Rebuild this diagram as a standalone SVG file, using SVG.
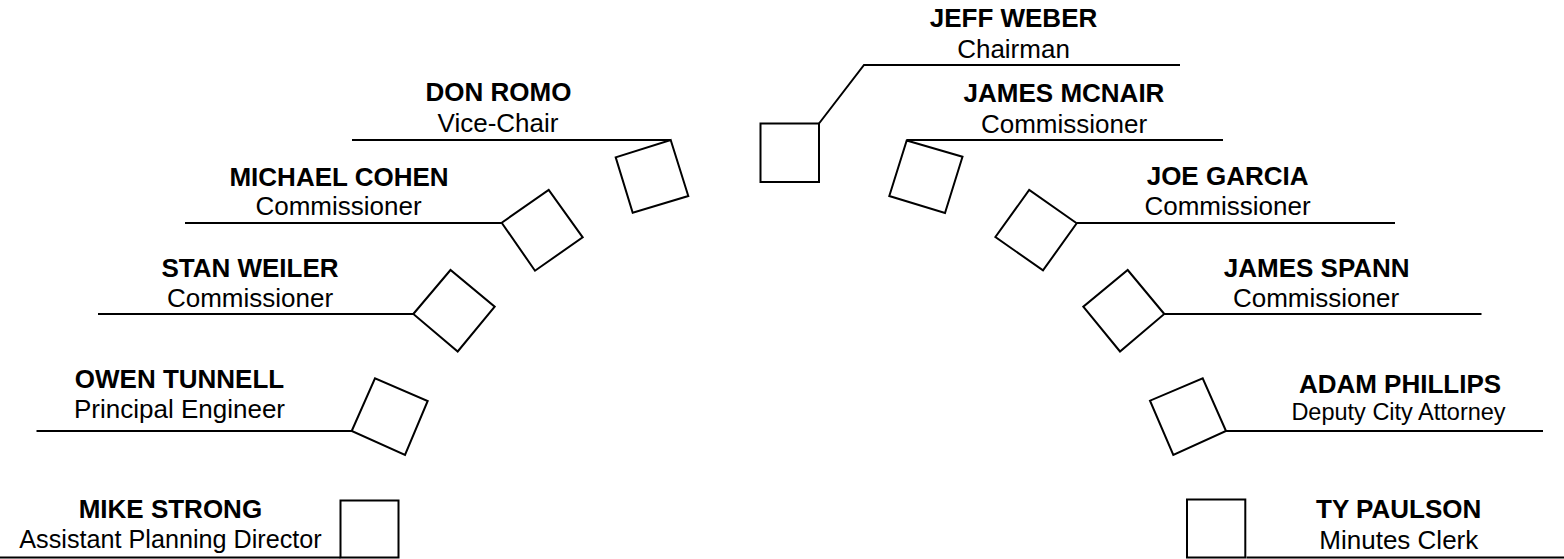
<svg xmlns="http://www.w3.org/2000/svg" width="1564" height="559" viewBox="0 0 1564 559">
<style>
.box{fill:#fff;stroke:#000;stroke-width:2}
.ln{fill:none;stroke:#000;stroke-width:2}
.nm{font-family:"Liberation Sans",Arial,sans-serif;font-weight:bold;font-size:26px;fill:#000;text-anchor:middle}
.tt{font-family:"Liberation Sans",Arial,sans-serif;font-size:26px;fill:#000;text-anchor:middle}
</style>
<rect width="1564" height="559" fill="#fff"/>
<g id="connectors">
<polyline class="ln" points="819,123.5 864,65 1180,65"/>
<line class="ln" x1="352" y1="140" x2="670.7" y2="140"/>
<line class="ln" x1="906.7" y1="140" x2="1223" y2="140"/>
<line class="ln" x1="185" y1="223" x2="501.7" y2="223"/>
<line class="ln" x1="1076.7" y1="223" x2="1395" y2="223"/>
<line class="ln" x1="98" y1="314" x2="413.3" y2="314"/>
<line class="ln" x1="1164.3" y1="314" x2="1481.5" y2="314"/>
<line class="ln" x1="36.5" y1="431" x2="351.7" y2="431"/>
<line class="ln" x1="1226" y1="431" x2="1543" y2="431"/>
<line class="ln" x1="0" y1="557.5" x2="340.5" y2="557.5"/>
<line class="ln" x1="1246.5" y1="557.5" x2="1564" y2="557.5"/>
</g>
<g id="jeff-weber">
<rect class="box" x="760.5" y="123.5" width="58.5" height="58.5"/>
<text class="nm" x="1013.5" y="27">JEFF WEBER</text>
<text class="tt" x="1013.5" y="58">Chairman</text>
</g>
<g id="don-romo">
<polygon class="box" points="670.7,140 688.3,196 632.7,212.7 615.7,157.3"/>
<text class="nm" x="498.5" y="101">DON ROMO</text>
<text class="tt" x="498" y="131.5">Vice-Chair</text>
</g>
<g id="james-mcnair">
<polygon class="box" points="906.7,140.5 962.5,156.7 945,213 889.3,196"/>
<text class="nm" x="1064" y="101.5">JAMES MCNAIR</text>
<text class="tt" x="1064" y="132.5">Commissioner</text>
</g>
<g id="michael-cohen">
<polygon class="box" points="501.7,222.7 548.7,190 582.7,237.3 535,270.7"/>
<text class="nm" x="339" y="185.5">MICHAEL COHEN</text>
<text class="tt" x="338.5" y="215">Commissioner</text>
</g>
<g id="joe-garcia">
<polygon class="box" points="1076.7,223.3 1029.2,190 995.4,237 1043,270.4"/>
<text class="nm" x="1227.6" y="184.5">JOE GARCIA</text>
<text class="tt" x="1227.5" y="214.5">Commissioner</text>
</g>
<g id="stan-weiler">
<polygon class="box" points="413.3,314 450.5,270 494.7,306.7 457.7,351.5"/>
<text class="nm" x="250" y="276.7">STAN WEILER</text>
<text class="tt" x="250" y="306.7">Commissioner</text>
</g>
<g id="james-spann">
<polygon class="box" points="1164.3,314 1127.7,270 1083.3,306.7 1120,351.5"/>
<text class="nm" x="1316.7" y="276.7">JAMES SPANN</text>
<text class="tt" x="1316" y="307">Commissioner</text>
</g>
<g id="owen-tunnell">
<polygon class="box" points="351.7,431 375,378.3 427.7,401 405,455"/>
<text class="nm" x="179.5" y="387.7">OWEN TUNNELL</text>
<text class="tt" x="179.5" y="418.3">Principal Engineer</text>
</g>
<g id="adam-phillips">
<polygon class="box" points="1226,431 1202.7,378.3 1150,400.7 1173.3,455"/>
<text class="nm" x="1400" y="392.5">ADAM PHILLIPS</text>
<text class="tt" x="1398.5" y="419.5" style="font-size:23.5px">Deputy City Attorney</text>
</g>
<g id="mike-strong">
<rect class="box" x="340.5" y="500.5" width="58" height="57"/>
<text class="nm" x="170.4" y="518.3">MIKE STRONG</text>
<text class="tt" x="170.5" y="547.7" style="font-size:25.2px">Assistant Planning Director</text>
</g>
<g id="ty-paulson">
<rect class="box" x="1187" y="499.5" width="58.3" height="58"/>
<text class="nm" x="1398.7" y="518.3">TY PAULSON</text>
<text class="tt" x="1398.8" y="549">Minutes Clerk</text>
</g>
</svg>
